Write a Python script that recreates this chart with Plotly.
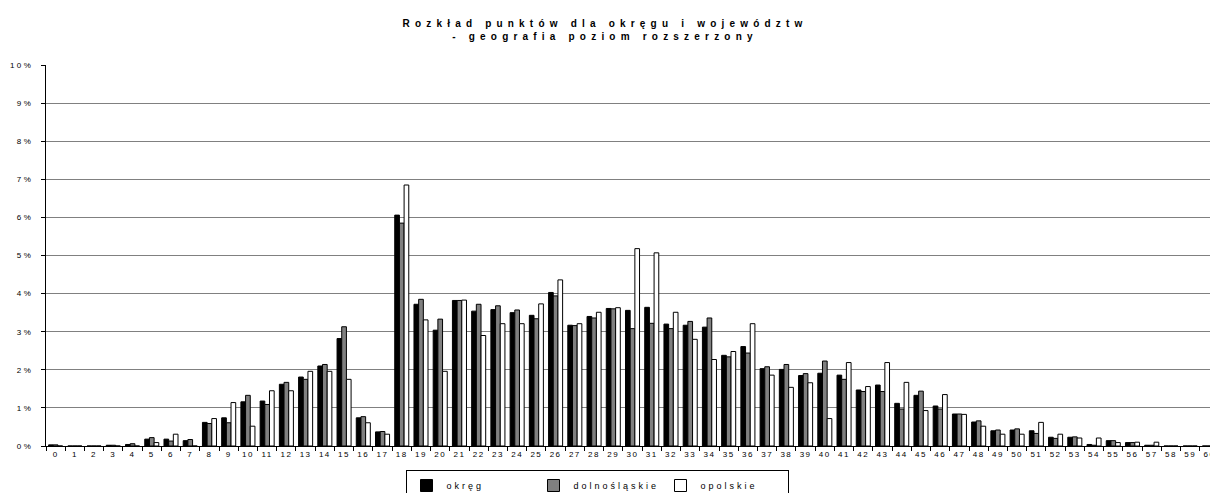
import plotly.graph_objects as go

categories = [str(i) for i in range(61)]

okreg = [0.03, 0, 0, 0.02, 0.04, 0.18, 0.18, 0.14, 0.62, 0.74,
         1.16, 1.18, 1.62, 1.81, 2.10, 2.82, 0.74, 0.37, 6.06, 3.72,
         3.04, 3.82, 3.54, 3.58, 3.50, 3.43, 4.03, 3.17, 3.40, 3.61,
         3.56, 3.64, 3.20, 3.17, 3.12, 2.38, 2.61, 2.03, 2.01, 1.85,
         1.91, 1.86, 1.47, 1.60, 1.12, 1.33, 1.05, 0.84, 0.63, 0.40,
         0.42, 0.40, 0.23, 0.23, 0.04, 0.14, 0.09, 0.02, 0, 0, 0]

dolnoslaskie = [0.03, 0, 0, 0.02, 0.06, 0.22, 0.13, 0.17, 0.59, 0.61,
                1.33, 1.09, 1.67, 1.75, 2.14, 3.13, 0.77, 0.38, 5.85, 3.85,
                3.33, 3.82, 3.72, 3.68, 3.57, 3.34, 3.94, 3.16, 3.36, 3.60,
                3.08, 3.22, 3.08, 3.27, 3.36, 2.34, 2.44, 2.08, 2.14, 1.90,
                2.23, 1.75, 1.43, 1.43, 0.97, 1.44, 0.97, 0.84, 0.66, 0.42,
                0.45, 0.33, 0.20, 0.24, 0.02, 0.14, 0.09, 0.02, 0, 0, 0]

opolskie = [0, 0, 0, 0, 0, 0.09, 0.31, 0, 0.72, 1.14,
            0.52, 1.45, 1.45, 1.96, 1.96, 1.75, 0.61, 0.31, 6.85, 3.31,
            1.96, 3.83, 2.90, 3.21, 3.21, 3.73, 4.36, 3.21, 3.51, 3.63,
            5.18, 5.07, 3.51, 2.80, 2.27, 2.48, 3.21, 1.86, 1.54, 1.66,
            0.72, 2.19, 1.56, 2.19, 1.67, 0.93, 1.35, 0.83, 0.52, 0.31,
            0.31, 0.62, 0.31, 0.21, 0.21, 0.09, 0.10, 0.10, 0, 0, 0]

series_names = ["okręg", "dolnośląskie", "opolskie"]
series_colors = ["#000000", "#808080", "#ffffff"]
y_ticks = list(range(0, 11))
y_tick_labels = [f"{v}%" for v in y_ticks]

FONT = "Liberation Sans, Arial, sans-serif"

fig = go.Figure()
for name, vals, col in zip(series_names, [okreg, dolnoslaskie, opolskie], series_colors):
    fig.add_trace(go.Bar(
        x=categories, y=vals, name=name,
        marker=dict(color=col, line=dict(color="#000000", width=1)),
    ))

fig.update_layout(
    width=1210, height=493,
    paper_bgcolor="white", plot_bgcolor="white",
    barmode="group", bargap=0.27, bargroupgap=0,
    margin=dict(l=46, r=0, t=65, b=47, autoexpand=False),
    font=dict(family=FONT, size=8, color="#000000"),
    title=dict(
        text="Rozkład punktów dla okręgu i województw<br>- geografia poziom rozszerzony",
        font=dict(family=FONT, size=10, color="#000000", weight="bold"),
        x=0.5, xanchor="center", xref="container",
        y=1 - 27 / 493, yanchor="top", yref="container",
    ),
    xaxis=dict(
        type="category", range=[-0.5, 60.03],
        showgrid=False, showline=True, linecolor="#000000", linewidth=1,
        ticks="outside", tickson="boundaries", ticklen=4, tickcolor="#000000",
        tickfont=dict(size=8, color="#000000"), automargin=False, tickangle=0,
    ),
    yaxis=dict(
        range=[0, 10], tickvals=y_ticks, ticktext=y_tick_labels,
        showgrid=True, gridcolor="#808080", gridwidth=1,
        showline=True, linecolor="#000000", linewidth=1,
        ticks="outside", ticklen=4, tickcolor="#000000",
        tickfont=dict(size=8, color="#000000"), automargin=False, zeroline=False,
        ticklabelstandoff=6,
    ),
    legend=dict(
        orientation="h", xref="container", yref="container",
        x=597 / 1210, xanchor="center", y=(493 - 470) / 493, yanchor="top",
        bordercolor="#000000", borderwidth=1, bgcolor="white",
        font=dict(size=9, color="#000000"), entrywidth=82, entrywidthmode="pixels",
        itemclick=False, itemdoubleclick=False,
    ),
)

post = """
document.body.style.margin = '0';
document.body.style.padding = '0';
var gd = document.getElementById('{plot_id}');
function applyLS(){
  gd.querySelectorAll('.gtitle').forEach(function(e){e.style.letterSpacing='5.2px';});
  gd.querySelectorAll('.xtick text').forEach(function(e){e.style.letterSpacing='1.5px';});
  gd.querySelectorAll('.ytick text').forEach(function(e){e.style.letterSpacing='2.5px';});
  gd.querySelectorAll('.legendtext').forEach(function(e){e.style.letterSpacing='3px';});
}
applyLS();
gd.on('plotly_afterplot', applyLS);
"""

fig.write_html("out.html", config={"displayModeBar": False}, post_script=post)
